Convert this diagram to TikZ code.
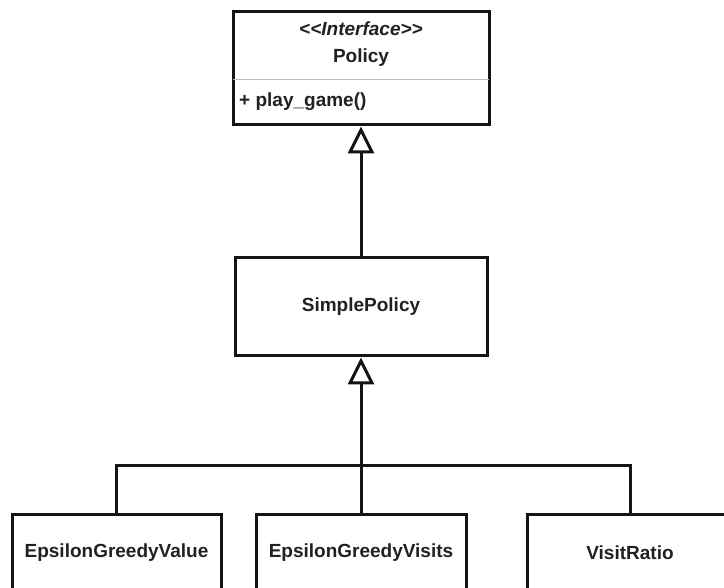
\documentclass[tikz,border=0pt]{standalone}
\usepackage{fontspec}
\setmainfont{Liberation Sans}
\usetikzlibrary{arrows.meta}
\begin{document}
\begin{tikzpicture}[x=1pt,y=-1pt,
  box/.style={draw=black!92, line width=3pt, fill=white, inner sep=0pt, text=black!87, font=\fontsize{19}{22}\selectfont\bfseries},
  lbl/.style={inner sep=0pt, text=black!87, font=\fontsize{19}{22}\selectfont\bfseries},
  conn/.style={draw=black!92, line width=3pt},
  inh/.style={conn, -{Triangle[open, length=27pt, width=26pt]}}]
\useasboundingbox (0,0) rectangle (724,588);
\clip (0,0) rectangle (724,588);

% Policy interface
\node[box, minimum width=256pt, minimum height=113pt] (policy) at (361,68.5) {};
\coordinate (divy) at (0,80);
\draw[black!25, line width=1pt, shorten <=1.5pt, shorten >=1.5pt] (policy.west |- divy) -- (policy.east |- divy);
\node[lbl, font=\fontsize{19}{22}\selectfont\bfseries\itshape] (stereo) at (361,29) {\hbox{<}\hbox{<}Interface\hbox{>}\hbox{>}};
\node[lbl] (pname) at (361,58) {Policy};
\node[lbl, anchor=west] (method) at (239,102) {+ play\_game()};

% SimplePolicy
\node[box, minimum width=252pt, minimum height=98pt] (simple) at (361,307) {SimplePolicy};

% children
\node[box, minimum width=209pt, minimum height=78pt] (c1) at (116.5,553) {EpsilonGreedyValue};
\node[box, minimum width=210pt, minimum height=78pt] (c2) at (361,553) {EpsilonGreedyVisits};
\node[box, minimum width=206pt, minimum height=78pt] (c3) at (630,553) {VisitRatio};

% connectors
\draw[inh] (simple.north) -- (policy.south);
\coordinate (bus) at (361,466);
\draw[inh] (c2.north) -- (simple.south);
\draw[conn] (c1.north) |- (bus);
\draw[conn] (c3.north) |- (bus);
\end{tikzpicture}
\end{document}
